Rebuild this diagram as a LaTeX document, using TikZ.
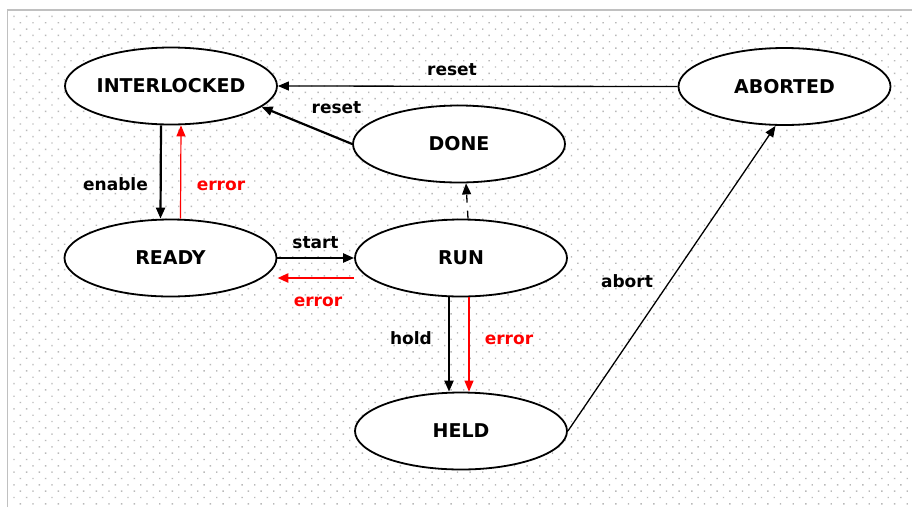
\documentclass[tikz,border=0pt]{standalone}
\usepackage{fontspec}
\setmainfont{DejaVu Sans}
\usetikzlibrary{shapes.geometric,arrows.meta}
\definecolor{framegray}{RGB}{192,192,192}
\definecolor{dotgray}{RGB}{185,185,185}
\definecolor{errred}{RGB}{255,0,0}
\tikzset{
  state/.style={ellipse, draw=black, line width=1.8pt, fill=white,
    minimum width=212pt, minimum height=77pt, inner sep=0pt,
    font=\fontsize{19}{22}\selectfont\bfseries},
  lbl/.style={font=\fontsize{17}{20}\selectfont\bfseries, anchor=base, inner sep=0pt},
  tip/.style={-{Triangle[length=11pt,width=9pt]}},
  heavy/.style={tip, line width=2.2pt},
  light/.style={tip, line width=1.3pt},
}
\begin{document}
\begin{tikzpicture}[x=1pt,y=-1pt]
  \useasboundingbox (0,0) rectangle (912,507);
  \fill[white] (0,0) rectangle (912,507);
  % staggered dot grid of the canvas
  \fill[dotgray] \foreach \r in {0,...,77} {
      \foreach \c in {0,...,70} {
        ({13.3+12.67*\c+6.33*mod(\r,2)},{15.7+6.33*\r}) rectangle ++(1.4,1.4)
      }
    };
  % canvas frame
  \draw[framegray, line width=1.6pt] (7.5,507) -- (7.5,10) -- (912,10);

  % states
  \node[state] (int)  at (171,86)    {INTERLOCKED};
  \node[state] (rdy)  at (170.5,258) {READY};
  \node[state] (run)  at (461,258)   {RUN};
  \node[state] (done) at (459,144)   {DONE};
  \node[state] (held) at (461,431)   {HELD};
  \node[state] (abt)  at (784.5,86.5){ABORTED};

  % transitions
  \draw[light] (abt.west) -- (int.east);
  \draw[heavy] (done.west) -- (int.-13);
  \draw[heavy] ([xshift=-10pt]int.south) -- ([xshift=-10pt]rdy.north);
  \draw[light, errred, line width=1.2pt] ([xshift=10pt]rdy.north) -- ([xshift=10pt]int.south);
  \draw[heavy] (rdy.east) -- (run.west);
  \draw[heavy, errred, line width=2.6pt] ([yshift=-20pt]run.west) -- ([yshift=-20pt]rdy.east);
  \draw[light, dash pattern=on 8pt off 8pt] ([xshift=7pt]run.north) -- ([xshift=7pt]done.south);
  \draw[heavy] ([xshift=-12pt]run.south) -- ([xshift=-12pt]held.north);
  \draw[light, errred, line width=1.2pt] ([xshift=8pt]run.south) -- ([xshift=8pt]held.north);
  \draw[light] (held.east) -- ([xshift=-9pt]abt.south);

  % transition labels
  \node[lbl] (l1) at (452,75)  {reset};
  \node[lbl] (l2) at (336.5,113) {reset};
  \node[lbl] (l3) at (115.5,190) {enable};
  \node[lbl, errred] (l4) at (221,190) {error};
  \node[lbl] (l5) at (315.5,248) {start};
  \node[lbl, errred] (l6) at (318,306) {error};
  \node[lbl] (l7) at (411,344) {hold};
  \node[lbl, errred] (l8) at (509,344) {error};
  \node[lbl] (l9) at (627,287) {abort};
\end{tikzpicture}
\end{document}
